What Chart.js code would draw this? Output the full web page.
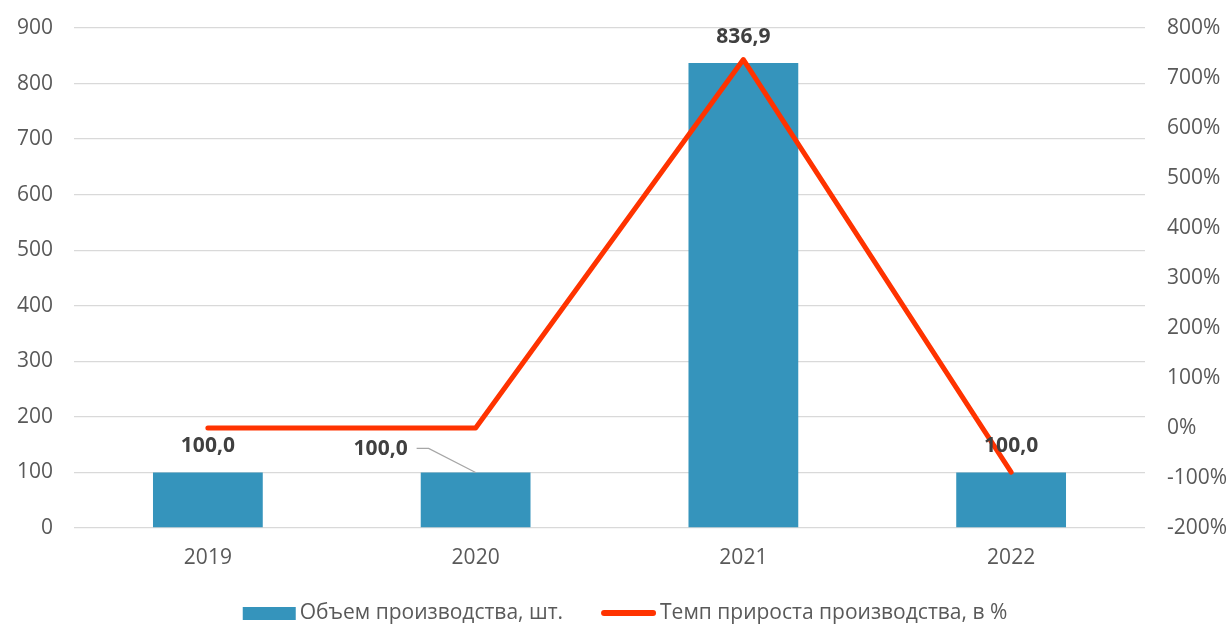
<!DOCTYPE html>
<html>
<head>
<meta charset="utf-8">
<script src="https://cdn.jsdelivr.net/npm/chart.js@4.4.0/dist/chart.umd.min.js"></script>
<style>
  html, body { margin: 0; padding: 0; background: #fff; }
  #wrap { width: 1230px; height: 624px; }
</style>
</head>
<body>
<div id="wrap"><canvas id="chart"></canvas></div>
<script>
const years = ['2019', '2020', '2021', '2022'];
const volume = [100.0, 100.0, 836.9, 100.0];
const growth = [0, 0, 736.9, -88.1];
const volumeLabel = 'Объем производства, шт.';
const growthLabel = 'Темп прироста производства, в %';

const barColor = '#3594BC';
const lineColor = '#FF3300';
const tickColor = '#595959';
const fontFamily = '"Open Sans", "Noto Sans", sans-serif';

// Value labels above bars (2020 one is pulled aside with a leader line)
const valueLabels = {
  id: 'valueLabels',
  afterDatasetsDraw(chart) {
    const ctx = chart.ctx;
    const meta = chart.getDatasetMeta(0);
    ctx.save();
    ctx.font = 'bold 21px ' + fontFamily;
    ctx.fillStyle = '#404040';
    ctx.textAlign = 'center';
    ctx.textBaseline = 'middle';
    meta.data.forEach((bar, i) => {
      const text = volume[i].toFixed(1).replace('.', ',');
      if (i === 1) {
        const lx = bar.x - 95, ly = bar.y - 23;
        ctx.strokeStyle = '#A6A6A6';
        ctx.lineWidth = 1.2;
        ctx.beginPath();
        ctx.moveTo(lx + 36, ly - 1);
        ctx.lineTo(lx + 48, ly - 1);
        ctx.lineTo(bar.x, bar.y);
        ctx.stroke();
        ctx.fillText(text, lx, ly);
      } else {
        ctx.fillText(text, bar.x, bar.y - 26);
      }
    });
    ctx.restore();
  }
};

// Legend at the bottom: filled box for bars, thick line for the line series
const bottomLegend = {
  id: 'bottomLegend',
  afterDraw(chart) {
    const ctx = chart.ctx;
    ctx.save();
    ctx.font = '21px ' + fontFamily;
    ctx.textBaseline = 'middle';
    const w1 = ctx.measureText(volumeLabel).width;
    const w2 = ctx.measureText(growthLabel).width;
    const total = 53 + 4 + w1 + 38 + 55 + 4 + w2;
    let x = 625 - total / 2;
    const y = 613;
    ctx.fillStyle = barColor;
    ctx.fillRect(x, y - 6, 53, 13);
    x += 57;
    ctx.fillStyle = tickColor;
    ctx.fillText(volumeLabel, x, y);
    x += w1 + 38;
    ctx.strokeStyle = lineColor;
    ctx.lineWidth = 6;
    ctx.lineCap = 'round';
    ctx.beginPath();
    ctx.moveTo(x + 3, y);
    ctx.lineTo(x + 52, y);
    ctx.stroke();
    x += 59;
    ctx.fillStyle = tickColor;
    ctx.fillText(growthLabel, x, y);
    ctx.restore();
  }
};

new Chart(document.getElementById('chart'), {
  type: 'bar',
  data: {
    labels: years,
    datasets: [{
      label: volumeLabel,
      data: volume,
      backgroundColor: barColor,
      barPercentage: 0.41,
      categoryPercentage: 1,
      yAxisID: 'y',
      order: 2
    }, {
      type: 'line',
      label: growthLabel,
      data: growth,
      borderColor: lineColor,
      backgroundColor: lineColor,
      borderWidth: 5,
      borderCapStyle: 'round',
      borderJoinStyle: 'round',
      pointRadius: 0,
      yAxisID: 'y1',
      order: 1
    }]
  },
  options: {
    responsive: true,
    maintainAspectRatio: false,
    animation: false,
    layout: { padding: { top: 28, left: 0, right: 0, bottom: 0 } },
    plugins: {
      legend: { display: false },
      tooltip: { enabled: false }
    },
    scales: {
      x: {
        grid: { display: false, drawTicks: false },
        border: { display: false },
        ticks: { color: tickColor, font: { family: fontFamily, size: 21 }, padding: 17 },
        afterFit: scale => { scale.height = 96; }
      },
      y: {
        position: 'left',
        min: 0,
        max: 900,
        ticks: { stepSize: 100, color: tickColor, font: { family: fontFamily, size: 21 }, padding: 1 },
        grid: { color: '#D9D9D9', lineWidth: 1.3, tickLength: 20, tickColor: 'rgba(0,0,0,0)' },
        border: { display: false },
        afterFit: scale => { scale.width = 74; }
      },
      y1: {
        position: 'right',
        min: -200,
        max: 800,
        ticks: {
          stepSize: 100,
          color: tickColor,
          font: { family: fontFamily, size: 21 },
          padding: 1,
          callback: v => v + '%'
        },
        grid: { drawOnChartArea: false, tickLength: 21, tickColor: 'rgba(0,0,0,0)' },
        border: { display: false },
        afterFit: scale => { scale.width = 85; }
      }
    }
  },
  plugins: [valueLabels, bottomLegend]
});
</script>
</body>
</html>
